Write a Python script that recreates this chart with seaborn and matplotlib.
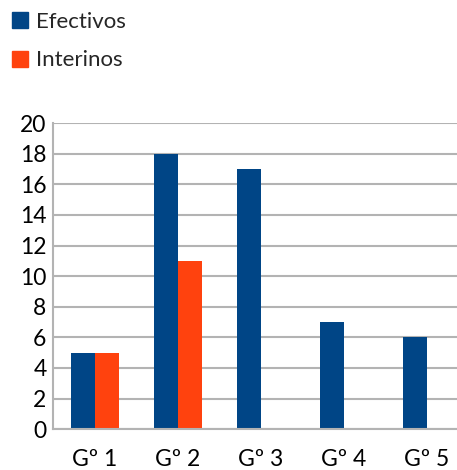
"""Bar chart: Efectivos vs Interinos by grupo."""

import matplotlib
matplotlib.use("Agg")
import matplotlib.pyplot as plt
import matplotlib.patches as mpatches
import pandas as pd
import seaborn as sns

groups = ["Gº 1", "Gº 2", "Gº 3", "Gº 4", "Gº 5"]
efectivos = [5, 18, 17, 7, 6]
interinos = [5, 11, 0, 0, 0]
series = ["Efectivos", "Interinos"]
colors = ["#004586", "#ff420e"]
yticks = list(range(0, 21, 2))


def main():
    sns.set_style("white")
    plt.rcParams["font.family"] = ["Lato", "DejaVu Sans"]

    df = pd.DataFrame({
        "grupo": groups * 2,
        "serie": [series[0]] * len(groups) + [series[1]] * len(groups),
        "valor": efectivos + interinos,
    })

    fig = plt.figure(figsize=(4.57, 4.70), dpi=100)
    # plot area runs a little past the right edge, as in the original
    ax = fig.add_axes([0.117, 0.087, 0.908, 0.651])

    sns.barplot(data=df, x="grupo", y="valor", hue="serie",
                palette=colors, width=0.58, saturation=1,
                linewidth=0, legend=False, ax=ax)

    ax.set_ylim(0, 20)
    ax.set_xlim(-0.5, 4.5)
    ax.set_yticks(yticks)
    ax.yaxis.grid(True, color="#b3b3b3", linewidth=1.5)
    ax.set_axisbelow(True)
    ax.set_xlabel("")
    ax.set_ylabel("")
    for side in ["top", "right"]:
        ax.spines[side].set_visible(False)
    for side in ["left", "bottom"]:
        ax.spines[side].set_color("#b3b3b3")
        ax.spines[side].set_linewidth(1.5)
    ax.tick_params(axis="both", length=0, labelsize=16.5, colors="black")
    ax.tick_params(axis="x", pad=14)
    ax.tick_params(axis="y", pad=5)

    handles = [mpatches.Patch(color=c, label=s) for s, c in zip(series, colors)]
    fig.legend(handles=handles, loc="upper left", bbox_to_anchor=(0.0, 1.0),
               frameon=False, fontsize=16, handlelength=0.73, handleheight=0.73,
               handletextpad=0.32, labelspacing=0.82, borderpad=0.15,
               borderaxespad=0.4)

    fig.savefig("out.png", dpi=100, facecolor="white")
    plt.close(fig)


if __name__ == "__main__":
    main()
